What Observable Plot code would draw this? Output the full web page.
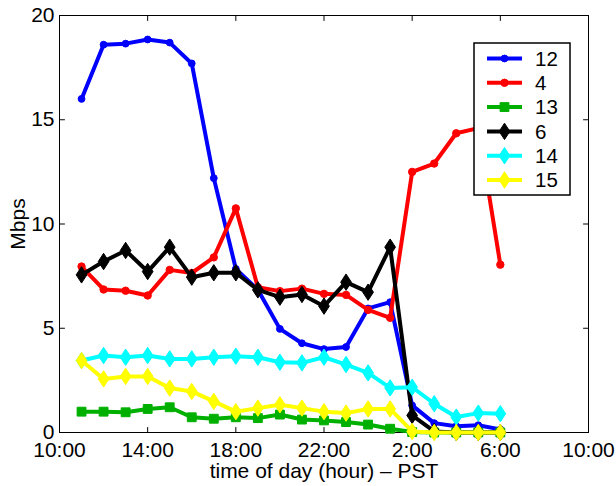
<!DOCTYPE html>
<html><head><meta charset="utf-8">
<script src="https://cdn.jsdelivr.net/npm/d3@7"></script>
<script src="https://cdn.jsdelivr.net/npm/@observablehq/plot@0.6"></script>
<style>
body{margin:0;background:#fff;}
#wrap{position:relative;width:616px;height:486px;font-family:"Liberation Sans",Arial,sans-serif;}
#wrap svg{position:absolute;left:0;top:0;}
</style></head><body><div id="wrap"></div>
<script>
// ---- data ----
const hourOfDay = [11,12,13,14,15,16,17,18,19,20,21,22,23,0,1,2,3,4,5,6];
const s12 = [16.0,18.6,18.65,18.85,18.7,17.7,12.2,7.85,6.85,4.97,4.28,4.0,4.1,5.95,6.25,1.3,0.45,0.3,0.35,0.15];
const s4  = [7.96,6.86,6.8,6.57,7.8,7.65,8.4,10.75,6.97,6.78,6.9,6.65,6.6,5.88,5.5,12.5,12.9,14.35,14.6,8.05];
const s13 = [1.0,1.0,0.97,1.13,1.21,0.73,0.66,0.73,0.69,0.86,0.62,0.58,0.5,0.38,0.18,0.02,0,0,0,0];
const s6  = [7.56,8.2,8.73,7.72,8.89,7.45,7.66,7.66,6.84,6.49,6.62,6.06,7.21,6.73,8.89,0.82,0.05,0,0,0];
const s14 = [3.45,3.69,3.61,3.69,3.53,3.53,3.61,3.66,3.61,3.37,3.34,3.61,3.26,2.86,2.14,2.17,1.38,0.74,0.93,0.9];
const s15 = [3.45,2.57,2.69,2.69,2.13,1.97,1.49,1.0,1.17,1.33,1.17,1.0,0.93,1.13,1.13,0.05,0,0,0,0];
const seriesNames = ["12","4","13","6","14","15"];
const seriesValues = [s12,s4,s13,s6,s14,s15];
const xTicks = [0,4,8,12,16,20,24];
const xTickLabels = ["10:00","14:00","18:00","22:00","2:00","6:00","10:00"];
const yTicks = [0,5,10,15,20];
const xLabel = "time of day (hour) \u2013 PST";
const yLabel = "Mbps";

// ---- styles ----
const FONT = '"Liberation Sans", Arial, sans-serif';
const diamond = {draw(ctx, size){const r=Math.sqrt(size/Math.PI);const w=r*0.85,h=r*1.3;ctx.moveTo(0,-h);ctx.lineTo(w,0);ctx.lineTo(0,h);ctx.lineTo(-w,0);ctx.closePath();}};
const seriesStyle = [
  {color:"#0000ff", symbol:"circle", r:3.4},
  {color:"#ff0000", symbol:"circle", r:3.7},
  {color:"#00b000", symbol:"square", r:5},
  {color:"#000000", symbol:diamond, r:6.3},
  {color:"#00ffff", symbol:diamond, r:6.3},
  {color:"#ffff00", symbol:diamond, r:6.3}
];

const tickShape = {draw(ctx, l){ctx.moveTo(0,0);ctx.lineTo(0,-l);}};
const innerX = xTicks.slice(1,-1), innerY = yTicks.slice(1,-1);

const marks = [
  Plot.axisX({ticks:xTicks, tickFormat:d=>xTickLabels[xTicks.indexOf(d)], tickSize:0, tickPadding:10, fontSize:21, label:null}),
  Plot.axisY({ticks:yTicks, tickSize:0, tickPadding:5, fontSize:21, label:null}),
  Plot.vector(innerX, {x:d=>d, y:yTicks[0], length:5, rotate:0, anchor:"start", shape:tickShape, stroke:"black", strokeWidth:1}),
  Plot.vector(innerX, {x:d=>d, y:yTicks[yTicks.length-1], length:5, rotate:180, anchor:"start", shape:tickShape, stroke:"black", strokeWidth:1}),
  Plot.vector(innerY, {x:xTicks[0], y:d=>d, length:5, rotate:90, anchor:"start", shape:tickShape, stroke:"black", strokeWidth:1}),
  Plot.vector(innerY, {x:xTicks[xTicks.length-1], y:d=>d, length:5, rotate:-90, anchor:"start", shape:tickShape, stroke:"black", strokeWidth:1}),
  Plot.frame({stroke:"black", strokeWidth:1}),
  Plot.text([xLabel], {text:d=>d, frameAnchor:"bottom", textAnchor:"middle", lineAnchor:"middle", dy:39, fontSize:21}),
  Plot.text([yLabel], {text:d=>d, frameAnchor:"left", textAnchor:"middle", lineAnchor:"middle", dx:-41, rotate:-90, fontSize:21})
];

seriesValues.forEach((vals, k) => {
  const st = seriesStyle[k];
  const rows = hourOfDay.map((h,i)=>({t:(h-10+24)%24, v:vals[i]}));
  marks.push(Plot.line(rows, {x:"t", y:"v", stroke:st.color, strokeWidth:4, strokeLinejoin:"round"}));
  marks.push(Plot.dot(rows, {x:"t", y:"v", symbol:st.symbol, r:st.r, fill:st.color, stroke:st.color, strokeWidth:1}));
});

const chart = Plot.plot({
  width:616, height:486,
  marginLeft:59, marginRight:28, marginTop:15, marginBottom:54,
  x:{domain:[xTicks[0], xTicks[xTicks.length-1]]},
  y:{domain:[yTicks[0], yTicks[yTicks.length-1]]},
  style:{fontFamily:FONT, fontSize:"21px", background:"white", color:"black", overflow:"visible"},
  marks
});
document.getElementById("wrap").appendChild(chart);

// ---- legend overlay ----
const lg = d3.select("#wrap").append("svg").attr("width",616).attr("height",486).style("pointer-events","none");
const L = {x:474, y:43, w:96, h:152};
lg.append("rect").attr("x",L.x).attr("y",L.y).attr("width",L.w).attr("height",L.h).attr("fill","white").attr("stroke","black").attr("stroke-width",1.5);
const symMap = {circle:d3.symbolCircle, square:d3.symbolSquare};
seriesNames.forEach((name,k)=>{
  const st = seriesStyle[k];
  const cy = L.y + 15.5 + k*24.3;
  lg.append("line").attr("x1",L.x+13).attr("x2",L.x+48).attr("y1",cy).attr("y2",cy).attr("stroke",st.color).attr("stroke-width",4);
  const sym = typeof st.symbol === "string" ? symMap[st.symbol] : st.symbol;
  lg.append("path").attr("d", d3.symbol(sym, st.r*st.r*Math.PI)()).attr("transform",`translate(${L.x+30.5},${cy})`).attr("fill",st.color).attr("stroke",st.color).attr("stroke-width",1);
  lg.append("text").attr("x",L.x+61).attr("y",cy).attr("dy","0.36em").attr("font-size",20.5).attr("font-family",FONT).text(name);
});
</script></body></html>
